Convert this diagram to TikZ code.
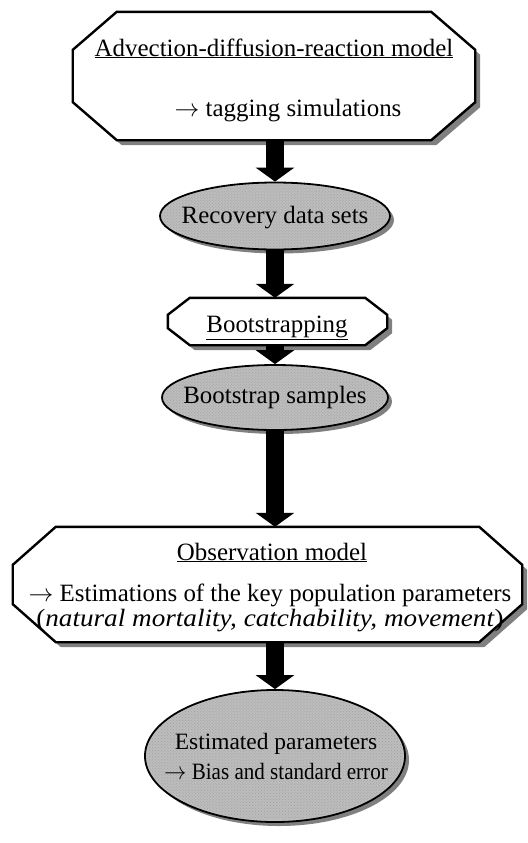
\documentclass[tikz,border=0pt]{standalone}
\usepackage{fontspec}
\setmainfont{Liberation Serif}
\usetikzlibrary{arrows.meta,calc,shapes.geometric,patterns}
\definecolor{ellgray}{gray}{0.74}
\definecolor{shadowgray}{gray}{0.5}
\newcommand\octo[5]{% node, chamfer x, chamfer y, shift x, shift y
  ($(#1.north west)+(#2+#4,#5)$) -- ($(#1.north east)+(-#2+#4,#5)$) --
  ($(#1.north east)+(#4,#3+#5)$) -- ($(#1.south east)+(#4,-#3+#5)$) --
  ($(#1.south east)+(-#2+#4,#5)$) -- ($(#1.south west)+(#2+#4,#5)$) --
  ($(#1.south west)+(#4,-#3+#5)$) -- ($(#1.north west)+(#4,#3+#5)$) -- cycle}
\newcommand\rarr{$\rightarrow$}
\begin{document}
\begin{tikzpicture}[x=1bp,y=-1bp,
  frame/.style={draw=none, inner sep=0pt, rectangle},
  ellnode/.style={ellipse, draw=black, line width=1.8bp, fill=ellgray, inner sep=0pt},
  elltex/.style={ellipse, pattern=crosshatch dots, pattern color=gray!75, inner sep=0pt},
  ellshadow/.style={ellipse, fill=shadowgray, inner sep=0pt},
  txt/.style={inner sep=0pt, anchor=base, font=\fontsize{25}{29}\selectfont},
  smalltxt/.style={inner sep=0pt, anchor=base, font=\fontsize{23.5}{27}\selectfont},
  octline/.style={draw=black, line width=2.4bp, fill=white, line join=miter},
  octshadow/.style={fill=shadowgray},
  blockarrow/.style={draw=black, line width=18bp, -{Triangle[length=14bp,width=38bp]}},
]
\useasboundingbox (0,0) rectangle (528,843);

% frames
\node[frame, minimum width=402bp, minimum height=128bp] (box1) at (274,76) {};
\node[frame, minimum width=219bp, minimum height=47bp] (box2) at (277.5,321.5) {};
\node[frame, minimum width=509bp, minimum height=115bp] (box3) at (267.5,584.5) {};

% shadows
\fill[octshadow] \octo{box1}{44}{38}{5}{5};
\fill[octshadow] \octo{box2}{22}{17}{5}{5};
\fill[octshadow] \octo{box3}{43}{38}{5}{5};
\node[ellshadow, minimum width=230bp, minimum height=67bp] (sh1) at (279,220) {};
\node[ellshadow, minimum width=226bp, minimum height=65bp] (sh2) at (279,401.5) {};
\node[ellshadow, minimum width=260bp, minimum height=132bp] (sh3) at (279,760) {};

% shapes
\path[octline] \octo{box1}{44}{38}{0}{0};
\path[octline] \octo{box2}{22}{17}{0}{0};
\path[octline] \octo{box3}{43}{38}{0}{0};
\node[ellnode, minimum width=230bp, minimum height=67bp] (ell1) at (275,216) {};
\node[ellnode, minimum width=226bp, minimum height=65bp] (ell2) at (275,397.5) {};
\node[ellnode, minimum width=260bp, minimum height=132bp] (ell3) at (275,756) {};
\node[elltex, minimum width=226bp, minimum height=63bp] (tx1) at (ell1) {};
\node[elltex, minimum width=222bp, minimum height=61bp] (tx2) at (ell2) {};
\node[elltex, minimum width=256bp, minimum height=128bp] (tx3) at (ell3) {};

% arrows
\draw[blockarrow] (box1.south -| ell1.north) -- (ell1.north);
\draw[blockarrow] (ell1.south) -- (ell1.south |- box2.north);
\draw[blockarrow] (box2.south -| ell2.north) -- (ell2.north);
\draw[blockarrow] (ell2.south) -- (ell2.south |- box3.north);
\draw[blockarrow] (box3.south -| ell3.north) -- (ell3.north);

% texts
\node[txt] (t1) at (274,56) {\underline{Advection-diffusion-reaction model}};
\node[txt] (t2) at (288,116) {\rarr\ tagging simulations};
\node[txt] (t3) at (275,223) {Recovery data sets};
\node[txt] (t4) at (277,332) {\underline{Bootstrapping}};
\node[txt] (t5) at (275,403) {Bootstrap samples};
\node[txt] (t6) at (272,560) {\underline{Observation model}};
\node[txt] (t7) at (270,601) {\rarr\ Estimations of the key population parameters};
\node[txt] (t8) at (270,626) {\scalebox{1.09}[1]{(\textit{natural mortality, catchability, movement})}};
\node[smalltxt] (t9) at (276,749) {Estimated parameters};
\node[smalltxt] (t10) at (276,779) {\scalebox{0.9}[1]{\rarr\ Bias and standard error}};
\end{tikzpicture}
\end{document}
